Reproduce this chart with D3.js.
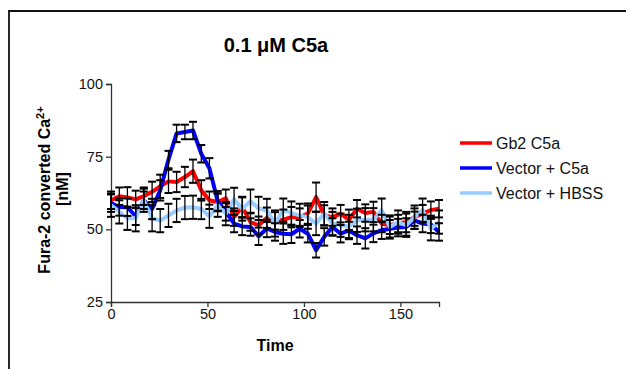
<!DOCTYPE html>
<html>
<head>
<meta charset="utf-8">
<script src="https://cdn.jsdelivr.net/npm/d3@7/dist/d3.min.js"></script>
<style>
  html, body { margin: 0; padding: 0; background: #fff; }
  svg { display: block; font-family: Arial, "Liberation Sans", sans-serif; }
</style>
</head>
<body>
<div id="chart"></div>
<script>
// time points (s)
const times = [0, 4.3, 8.5, 12.8, 17, 21.3, 25.5, 29.8, 34, 38.3, 42.5, 46.8, 51, 55.3, 59.5, 63.8, 68, 72.3, 76.5, 80.8,
  85, 89.3, 93.5, 97.8, 102, 106.3, 110.5, 114.8, 119, 123.3, 127.5, 131.8, 136, 140.3, 144.5, 148.8, 153, 157.3, 161.5, 165.8, 170];

const gb2C5a = [60, 61.4, 61, 60.3, 61.4, 62.9, 64.8, 66.5, 66.3, 68, 70, 63.4, 60, 59.4, 60.7, 54.2, 57.7, 52.5, 51.4, 54,
  52.9, 53.3, 54.2, 54.2, 55.4, 61.1, 54.8, 54.2, 55.4, 53.3, 57.1, 55.6, 56, 52, 51.4, 52, 52.5, 54.2, 55.4, 56.6, 57.1];
const gb2C5aErr = [3, 3, 3.5, 3, 3, 3.5, 4, 4, 3.5, 3.5, 4, 3.5, 3, 3, 3, 3, 3.5, 3, 3, 3.5,
  3, 3.5, 3.5, 3, 3.5, 5, 3.5, 3, 3, 3.5, 3, 3, 3.5, 3, 3, 3, 3.5, 3, 3, 3, 3];

const vecC5a = [59, 57.7, 57.6, 54.5, 60, 57, 63.4, 74, 83, 83.5, 84, 76, 71, 59.7, 56, 52, 51, 50.8, 47.6, 50.3,
  49.1, 48.5, 48.3, 50.2, 48.5, 42.8, 47.4, 50.8, 48.5, 49.6, 48, 46.9, 48.6, 49.7, 50.2, 50.6, 50.8, 53.1, 52, 51.7, 49.1];
const vecC5aErr = [3, 3, 3, 3, 3, 3.5, 3.5, 3, 3, 2.5, 3, 3, 3.5, 3.5, 3, 3, 3, 3, 3, 3,
  3, 3.5, 3, 3, 3, 2.5, 3, 3, 3, 3, 3, 3.5, 3, 3, 3, 3, 3, 3, 3, 3, 3];

const vecHbss = [58.3, 56, 53.8, 53.8, 60, 53.8, 53, 54.8, 56.5, 57.5, 57.6, 57, 54.5, 58.3, 55.4, 60.3, 57, 59.7, 57.2, 56.5,
  52, 56.6, 55.6, 54.8, 54.2, 52, 55.4, 52, 51.4, 51, 53.1, 53.3, 53.3, 56.6, 50.8, 52.5, 51.4, 54.2, 56.6, 50.2, 52.5];
const vecHbssErr = [4, 4, 4, 4.5, 4, 4.5, 4, 4, 4, 4, 4, 3.5, 4, 4, 4, 4, 4, 4, 4, 4,
  4.5, 4, 4, 4, 4, 4, 4, 4, 4, 4, 4, 4, 4, 4, 4, 4, 4, 4, 4, 4, 4];

const seriesNames = ['Gb2 C5a', 'Vector + C5a', 'Vector + HBSS'];
const seriesColors = ['#ff0000', '#0000ff', '#99ccff'];
const seriesVals = [gb2C5a, vecC5a, vecHbss];
const seriesErrs = [gb2C5aErr, vecC5aErr, vecHbssErr];

const yTicks = [25, 50, 75, 100];
const xTicks = [0, 50, 100, 150];

const W = 626, H = 369;
const svg = d3.select('#chart').append('svg').attr('width', W).attr('height', H);

// outer frame (open on right/bottom, like the pasted graph)
svg.append('path')
  .attr('d', `M9,${H + 2} V11 H${W + 2}`)
  .attr('fill', 'none')
  .attr('stroke', '#111')
  .attr('stroke-width', 1.8);

const x = d3.scaleLinear().domain([0, 170]).range([111, 439]);
const y = d3.scaleLinear().domain([25, 100]).range([302, 84]);

const yAxis = svg.append('g').attr('transform', 'translate(111,0)')
  .call(d3.axisLeft(y).tickValues(yTicks).tickSize(5).tickPadding(3));
const xAxis = svg.append('g').attr('transform', 'translate(0,302)')
  .call(d3.axisBottom(x).tickValues(xTicks).tickSize(5).tickPadding(2));
[xAxis, yAxis].forEach(a => {
  a.select('.domain').attr('stroke', '#333').attr('stroke-width', 1.3);
  a.selectAll('.tick line').attr('stroke', '#333').attr('stroke-width', 1.3);
  a.selectAll('.tick text').attr('fill', '#111').style('font-size', '14.5px')
    .style('font-family', 'Arial, "Liberation Sans", sans-serif');
});

const line = d3.line().x(d => x(d[0])).y(d => y(d[1]));

seriesVals.forEach((vals, k) => {
  svg.append('path')
    .datum(times.map((t, i) => [t, vals[i]]))
    .attr('d', line)
    .attr('fill', 'none')
    .attr('stroke', seriesColors[k])
    .attr('stroke-width', 4)
    .attr('stroke-linejoin', 'round');
});

// error bars (SEM)
seriesVals.forEach((vals, k) => {
  const g = svg.append('g').attr('stroke', '#000').attr('stroke-width', 1.3);
  times.forEach((t, i) => {
    const cx = x(t), hi = y(vals[i] + seriesErrs[k][i]), lo = y(vals[i] - seriesErrs[k][i]);
    g.append('line').attr('x1', cx).attr('x2', cx).attr('y1', hi).attr('y2', lo);
    g.append('line').attr('x1', cx - 4).attr('x2', cx + 4).attr('y1', hi).attr('y2', hi).attr('stroke-width', 2);
    g.append('line').attr('x1', cx - 4).attr('x2', cx + 4).attr('y1', lo).attr('y2', lo).attr('stroke-width', 2);
  });
});

// title
svg.append('text')
  .attr('x', 276).attr('y', 52)
  .attr('text-anchor', 'middle')
  .style('font-size', '20px').style('font-weight', 'bold')
  .text('0.1 \u03BCM C5a');

// axis titles
svg.append('text')
  .attr('x', 275).attr('y', 351)
  .attr('text-anchor', 'middle')
  .style('font-size', '16px').style('font-weight', 'bold')
  .text('Time');

const yt = svg.append('text')
  .attr('transform', 'translate(50,190) rotate(-90)')
  .attr('text-anchor', 'middle')
  .style('font-size', '16px').style('font-weight', 'bold');
yt.append('tspan').text('Fura-2 converted Ca');
yt.append('tspan').attr('dy', -6).style('font-size', '11px').text('2+');
svg.append('text')
  .attr('transform', 'translate(68,189) rotate(-90)')
  .attr('text-anchor', 'middle')
  .style('font-size', '16px').style('font-weight', 'bold')
  .text('[nM]');

// legend
const legend = svg.append('g');
seriesNames.forEach((name, k) => {
  const ly = 143 + k * 25;
  legend.append('line').attr('x1', 460).attr('x2', 492).attr('y1', ly).attr('y2', ly)
    .attr('stroke', seriesColors[k]).attr('stroke-width', 3.5);
  legend.append('text').attr('x', 496).attr('y', ly + 6)
    .style('font-size', '16px').attr('fill', '#111').text(name);
});
</script>
</body>
</html>
